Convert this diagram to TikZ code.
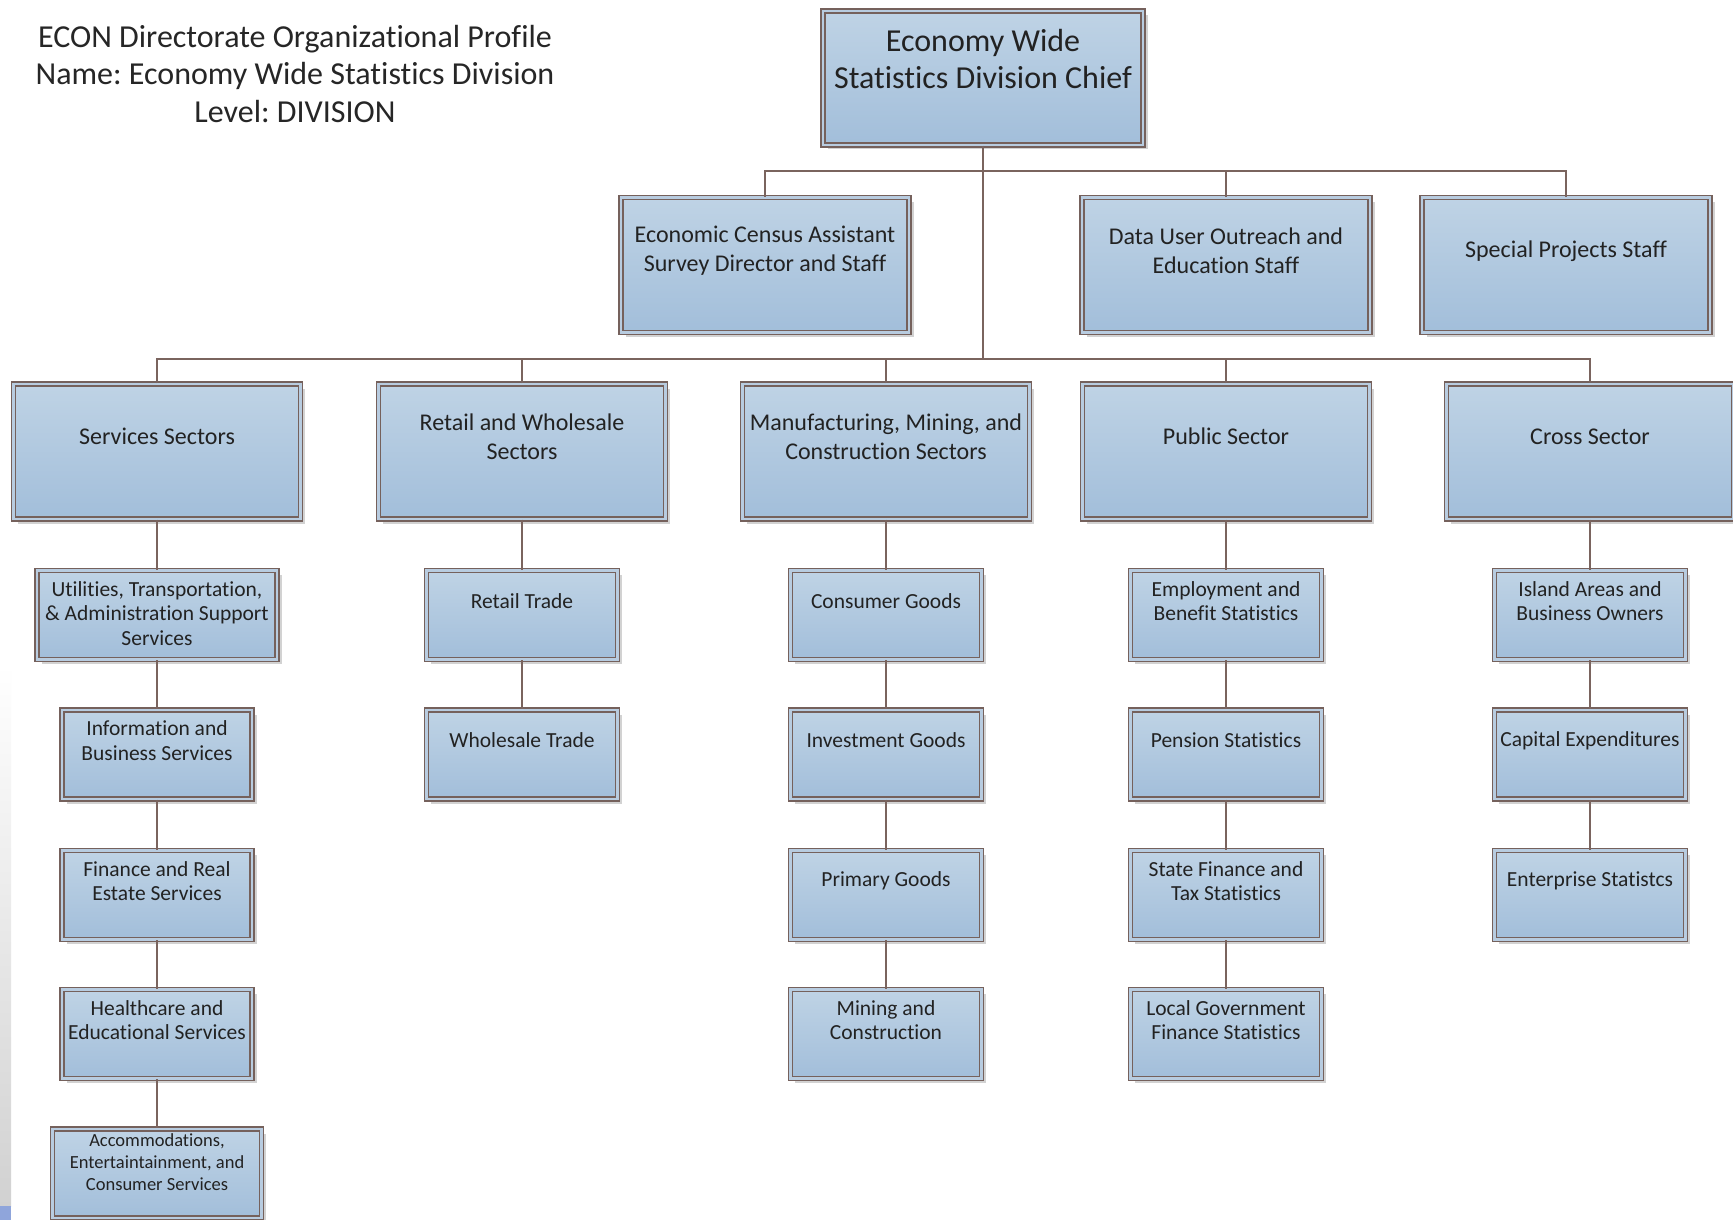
\documentclass[tikz,border=0pt]{standalone}
\usepackage{fontspec}
\setmainfont[Ligatures=NoCommon]{Carlito}
\frenchspacing
\usetikzlibrary{shadows}
\definecolor{edgec}{HTML}{75615C}
\definecolor{fillt}{HTML}{BFD3E5}
\definecolor{fillb}{HTML}{A2BEDA}
\definecolor{gapc}{HTML}{B8CCE0}
\definecolor{linec}{HTML}{7A645E}
\definecolor{txtc}{HTML}{222222}
\tikzset{
 orgbox/.style={draw=edgec, line width=1.4pt, double=gapc, double distance=2.6pt,
   top color=fillt, bottom color=fillb, inner sep=0pt,
   drop shadow={shadow xshift=4.5pt, shadow yshift=-4.5pt, fill=black!35, opacity=0.5}},
 bigbox/.style={orgbox, minimum width=287pt, minimum height=135pt},
 smallbox/.style={orgbox, minimum width=191pt, minimum height=89pt},
 chieftxt/.style={align=center, font=\fontsize{32}{37.6}\selectfont, text=txtc, inner sep=0pt},
 bigtxt/.style={align=center, font=\fontsize{24}{28.7}\selectfont, text=txtc, inner sep=0pt},
 smalltxt/.style={align=center, font=\fontsize{21.5}{24.3}\selectfont, text=txtc, inner sep=0pt},
 tinytxt/.style={align=center, font=\fontsize{18.5}{22}\selectfont, text=txtc, inner sep=0pt},
 conn/.style={draw=linec, line width=1.8pt},
}
\newcommand\orgnode[7]{%
 \node[#1] (#3) at (#4,#5) {};
 \node[#2] (#3-t) at ([yshift=#6pt]#3.center) {#7};}
\begin{document}
\begin{tikzpicture}[x=1pt,y=-1pt]
\fill[white] (0,0) rectangle (1733,1220);
\useasboundingbox (0,0) rectangle (1733,1220);
% left edge artefact
\shade[top color=white, bottom color=black!18] (0,665) rectangle (11,1206);
\fill[cyan!40!blue!45] (0,1206) rectangle (11,1220);
% title
\node[chieftxt, text=black!85] (title) at (295,74) {ECON Directorate Organizational Profile\\Name: Economy Wide Statistics Division\\Level: DIVISION};
% chief
\orgnode{orgbox,minimum width=320pt,minimum height=134pt}{chieftxt}{chief}{983}{78}{19}{Economy Wide\\Statistics Division Chief}
% staff
\orgnode{orgbox,minimum width=288pt,minimum height=135pt}{bigtxt}{ecas}{765}{265}{14}{Economic Census Assistant\\Survey Director and Staff}
\orgnode{orgbox,minimum width=288pt,minimum height=135pt}{bigtxt}{duo}{1226}{265}{14}{Data User Outreach and\\Education Staff}
\orgnode{orgbox,minimum width=288pt,minimum height=135pt}{bigtxt}{spec}{1566}{265}{14}{Special Projects Staff}
% sectors
\orgnode{bigbox}{bigtxt}{serv}{157}{451.5}{15}{Services Sectors}
\orgnode{bigbox}{bigtxt}{retail}{522}{451.5}{15}{Retail and Wholesale\\Sectors}
\orgnode{bigbox}{bigtxt}{mfg}{886}{451.5}{15}{Manufacturing, Mining, and\\Construction Sectors}
\orgnode{bigbox}{bigtxt}{public}{1226}{451.5}{15}{Public Sector}
\orgnode{bigbox}{bigtxt}{cross}{1590}{451.5}{15}{Cross Sector}
% services column
\orgnode{smallbox,minimum width=240pt}{smalltxt}{s1}{157}{615}{1.5}{Utilities, Transportation,\\\& Administration Support\\Services}
\orgnode{smallbox,minimum width=190pt}{smalltxt}{s2}{157}{754.5}{14}{Information and\\Business Services}
\orgnode{smallbox,minimum width=190pt}{smalltxt}{s3}{157}{895}{14}{Finance and Real\\Estate Services}
\orgnode{smallbox,minimum width=190pt}{smalltxt}{s4}{157}{1034}{14}{Healthcare and\\Educational Services}
\orgnode{smallbox,minimum width=209pt}{tinytxt}{s5}{157}{1173.5}{11}{Accommodations,\\Entertaintainment, and\\Consumer Services}
% retail column
\orgnode{smallbox}{smalltxt}{r1}{522}{615}{14}{Retail Trade}
\orgnode{smallbox}{smalltxt}{r2}{522}{754.5}{14}{Wholesale Trade}
% manufacturing column
\orgnode{smallbox}{smalltxt}{m1}{886}{615}{14}{Consumer Goods}
\orgnode{smallbox}{smalltxt}{m2}{886}{754.5}{14}{Investment Goods}
\orgnode{smallbox}{smalltxt}{m3}{886}{895}{14}{Primary Goods}
\orgnode{smallbox}{smalltxt}{m4}{886}{1034}{14}{Mining and\\Construction}
% public column
\orgnode{smallbox}{smalltxt}{p1}{1226}{615}{14}{Employment and\\Benefit Statistics}
\orgnode{smallbox}{smalltxt}{p2}{1226}{754.5}{14}{Pension Statistics}
\orgnode{smallbox}{smalltxt}{p3}{1226}{895}{14}{State Finance and\\Tax Statistics}
\orgnode{smallbox}{smalltxt}{p4}{1226}{1034}{14}{Local Government\\Finance Statistics}
% cross column
\orgnode{smallbox}{smalltxt}{c1}{1590}{615}{14}{Island Areas and\\Business Owners}
\orgnode{smallbox}{smalltxt}{c2}{1590}{754.5}{14}{Capital Expenditures}
\orgnode{smallbox}{smalltxt}{c3}{1590}{895}{14}{Enterprise Statistcs}
% connectors
\coordinate (bus1) at (983,171);
\coordinate (bus2) at (983,359);
\draw[conn] (chief.south) -- (bus2);
\draw[conn] (ecas.north) |- (bus1) -| (spec.north);
\draw[conn] (duo.north) -- (duo.north |- bus1);
\draw[conn] (serv.north) |- (bus2) -| (cross.north);
\draw[conn] (retail.north) -- (retail.north |- bus2);
\draw[conn] (mfg.north) -- (mfg.north |- bus2);
\draw[conn] (public.north) -- (public.north |- bus2);
\draw[conn] (serv.south) -- (s1.north);
\draw[conn] (s1.south) -- (s2.north);
\draw[conn] (s2.south) -- (s3.north);
\draw[conn] (s3.south) -- (s4.north);
\draw[conn] (s4.south) -- (s5.north);
\draw[conn] (retail.south) -- (r1.north);
\draw[conn] (r1.south) -- (r2.north);
\draw[conn] (mfg.south) -- (m1.north);
\draw[conn] (m1.south) -- (m2.north);
\draw[conn] (m2.south) -- (m3.north);
\draw[conn] (m3.south) -- (m4.north);
\draw[conn] (public.south) -- (p1.north);
\draw[conn] (p1.south) -- (p2.north);
\draw[conn] (p2.south) -- (p3.north);
\draw[conn] (p3.south) -- (p4.north);
\draw[conn] (cross.south) -- (c1.north);
\draw[conn] (c1.south) -- (c2.north);
\draw[conn] (c2.south) -- (c3.north);
\end{tikzpicture}
\end{document}
